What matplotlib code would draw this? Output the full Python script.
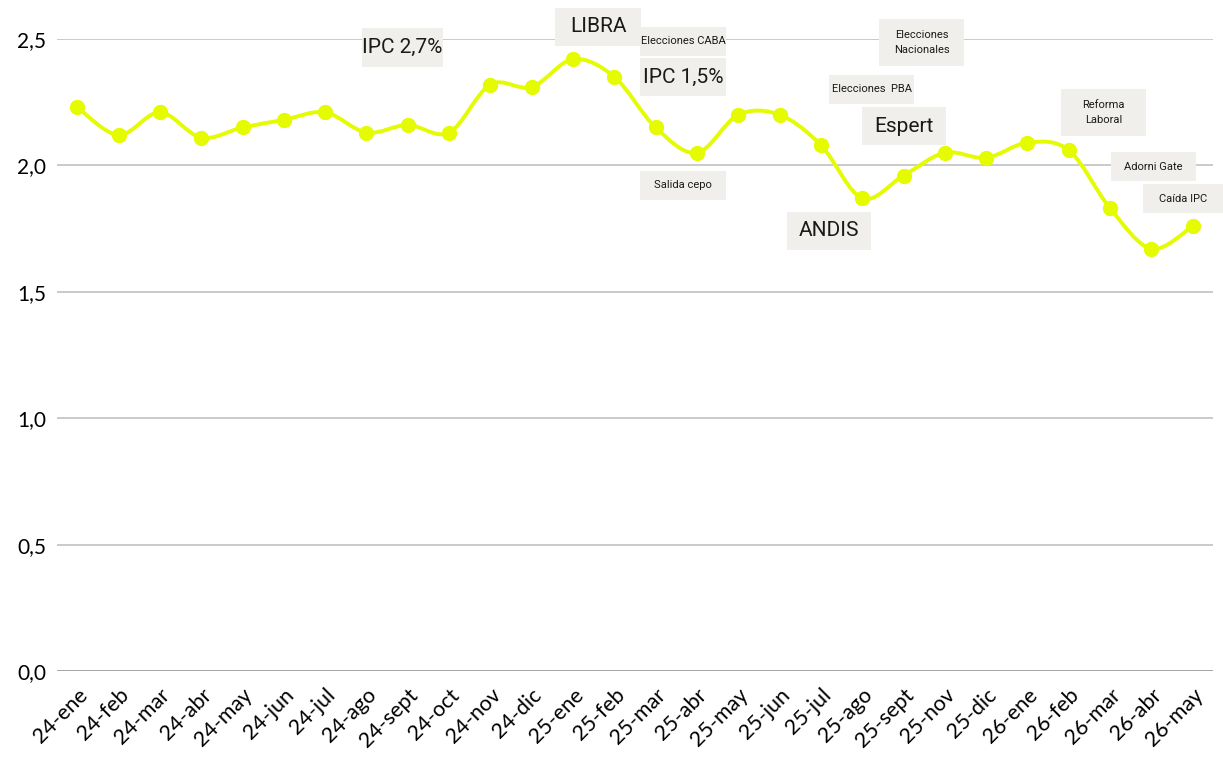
import numpy as np
import matplotlib
matplotlib.use("Agg")
import matplotlib.pyplot as plt
from matplotlib.path import Path
from matplotlib.patches import PathPatch, Rectangle

# datos
meses = ["24-ene", "24-feb", "24-mar", "24-abr", "24-may", "24-jun", "24-jul",
         "24-ago", "24-sept", "24-oct", "24-nov", "24-dic",
         "25-ene", "25-feb", "25-mar", "25-abr", "25-may", "25-jun", "25-jul",
         "25-ago", "25-sept", "25-nov", "25-dic",
         "26-ene", "26-feb", "26-mar", "26-abr", "26-may"]
valores = [2.23, 2.12, 2.21, 2.11, 2.15, 2.18, 2.21, 2.13, 2.16, 2.13, 2.32, 2.31,
           2.42, 2.35, 2.15, 2.05, 2.20, 2.20, 2.08, 1.87, 1.96, 2.05, 2.03,
           2.09, 2.06, 1.83, 1.67, 1.76]
y_ticks = [0.0, 0.5, 1.0, 1.5, 2.0, 2.5]
y_labels = ["0,0", "0,5", "1,0", "1,5", "2,0", "2,5"]

# anotaciones: texto, caja en pixeles (x0, y0, ancho, alto), tamaño de letra
eventos = [
    ("IPC 2,7%", (362, 28, 81, 39), 15),
    ("LIBRA", (555, 8, 86, 38), 15),
    ("Elecciones CABA", (640, 27, 86, 29), 8),
    ("IPC 1,5%", (640, 58, 86, 38), 15),
    ("Salida cepo", (640, 171, 86, 29), 8),
    ("Elecciones  PBA", (829, 75, 85, 29), 8),
    ("Espert", (862, 107, 84, 38), 15),
    ("ANDIS", (787, 212, 84, 38), 15),
    ("Elecciones\nNacionales", (879, 19, 85, 47), 8),
    ("Reforma\nLaboral", (1061, 89, 85, 47), 8),
    ("Adorni Gate", (1111, 152, 85, 29), 8),
    ("Caída IPC", (1143, 184, 80, 29), 8),
]

VERDE = "#e4fb00"
W, H = 1223, 758

plt.rcParams["font.family"] = ["Liberation Sans Narrow", "Roboto", "DejaVu Sans"]

fig = plt.figure(figsize=(W / 100, H / 100), dpi=100)
ax = fig.add_axes([57 / W, 1 - 671 / H, (1213 - 57) / W, (671 - 39) / H])

x = np.arange(len(meses))
y = np.array(valores)

# linea suavizada (bezier tipo excel)
verts = [(x[0], y[0])]
codes = [Path.MOVETO]
n = len(x)
for i in range(n - 1):
    p0 = np.array([x[max(i - 1, 0)], y[max(i - 1, 0)]])
    p1 = np.array([x[i], y[i]])
    p2 = np.array([x[i + 1], y[i + 1]])
    p3 = np.array([x[min(i + 2, n - 1)], y[min(i + 2, n - 1)]])
    c1 = p1 + (p2 - p0) / 6
    c2 = p2 - (p3 - p1) / 6
    verts += [tuple(c1), tuple(c2), tuple(p2)]
    codes += [Path.CURVE4] * 3
ax.add_patch(PathPatch(Path(verts, codes), facecolor="none", edgecolor=VERDE,
                       lw=2.8, zorder=3, capstyle="round"))
ax.plot(x, y, "o", color=VERDE, markersize=10, zorder=4)

ax.set_xlim(-0.49, 27.49)
ax.set_ylim(0, 2.5)
ax.set_yticks(y_ticks)
ax.set_yticklabels(y_labels, fontsize=15, family=["Lato", "DejaVu Sans"])
ax.set_xticks(x)
ax.set_xticklabels(meses, rotation=45, ha="right", va="top", rotation_mode="anchor",
                   fontsize=15.5, family=["Lato", "DejaVu Sans"])
ax.tick_params(length=0, pad=8)
ax.tick_params(axis="x", pad=10)
for s in ax.spines.values():
    s.set_visible(False)
for t in y_ticks[1:]:
    ax.axhline(t, color="#c6c6c6", lw=1.3, zorder=1)
ax.axhline(0, color="#8a8a8a", lw=1.8, zorder=1)

for texto, (bx, by, bw, bh), fs in eventos:
    fig.add_artist(Rectangle((bx / W, 1 - (by + bh) / H), bw / W, bh / H,
                             transform=fig.transFigure, facecolor="#f0efeb",
                             edgecolor="none", zorder=5))
    fig.text((bx + bw / 2) / W, 1 - (by + bh / 2) / H, texto, ha="center",
             va="center", fontsize=fs, color="#1a1a1a", zorder=6, linespacing=1.6)

fig.savefig("out.png", dpi=100)
